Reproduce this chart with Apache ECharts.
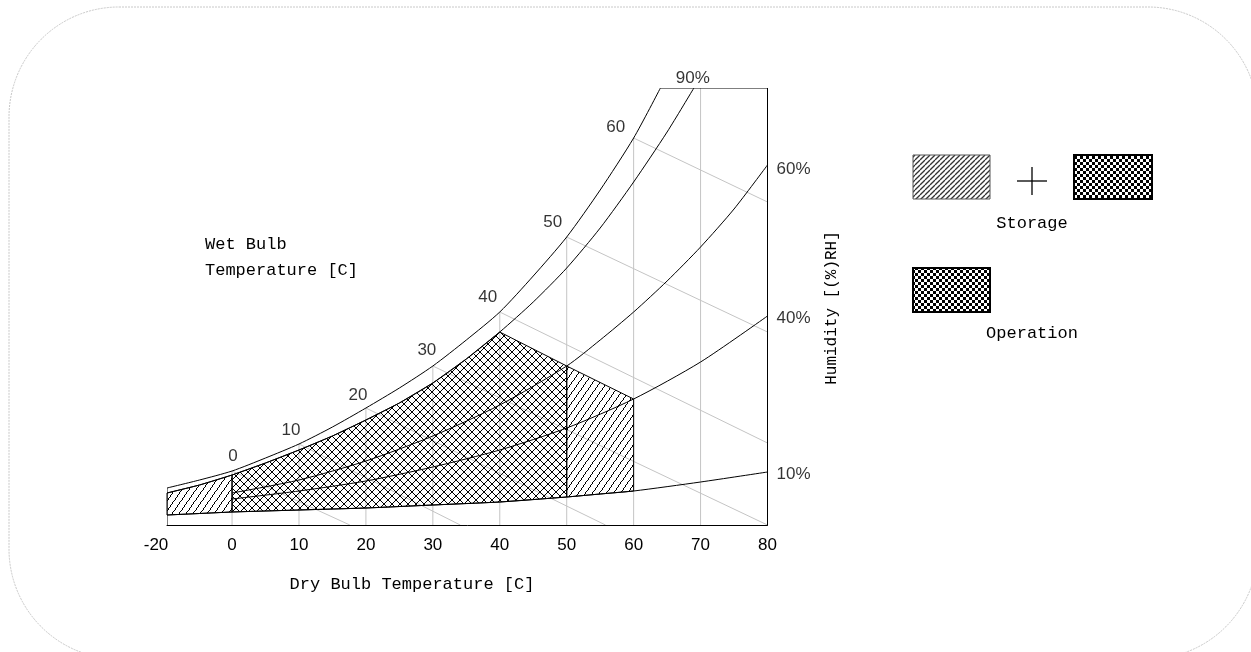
<!DOCTYPE html>
<html><head><meta charset="utf-8">
<script src="https://cdn.jsdelivr.net/npm/echarts@6/dist/echarts.min.js"></script>
<style>html,body{margin:0;padding:0;background:#fff;}#c{width:1251px;height:652px;}</style>
</head><body><div id="c"></div>
<script>
// ---- data (dry bulb temperature in °C, humidity index in chart units) ----
const xTicks = [-20, 0, 10, 20, 30, 40, 50, 60, 70, 80];
const wetBulbLabels = [0, 10, 20, 30, 40, 50, 60];
const satT = [-20, -10, 0, 5, 10, 15, 20, 25, 30, 35, 40, 45, 50, 55, 60, 64];
const satH = [37, 45, 54, 67, 81, 98, 117, 137, 159, 185, 213, 249, 288, 335, 387, 437];
const rh90T = [-20, -10, 0, 5, 10, 15, 20, 25, 30, 35, 40, 45, 50, 55, 60, 65, 69];
const rh90H = [32, 40, 50, 62, 75, 89, 105, 122, 142, 166, 193, 223, 257, 297, 343, 393, 437];
const rh60T = [0, 10, 20, 30, 40, 50, 55, 60, 65, 70, 75, 80];
const rh60H = [32, 45, 64, 89, 120, 159, 185, 213, 244, 278, 316, 360];
const rh40T = [0, 10, 20, 30, 40, 50, 60, 70, 80];
const rh40H = [26, 34, 44, 58, 75, 97, 126, 163, 209];
const rh10T = [-20, -10, 0, 10, 20, 30, 40, 50, 55, 60, 70, 80];
const rh10H = [10, 11.5, 13, 15, 17, 20, 23, 28, 31, 34, 43, 53];
const rhLabels = ['90%', '60%', '40%', '10%'];
// constant wet-bulb guide lines: start on saturation, end on chart border
const wbStartT = [0, 10, 20, 30, 40, 50, 60];
const wbEndT = [17.6, 34.1, 55.8, 80, 80, 80, 80];
const wbEndH = [0, 0, 0, 0, 82, 193, 323];
// upper wet-bulb limit of the Operation / Storage areas
const limitT = [40, 50, 60];
const limitH = [193, 159, 126];
const operationRange = [0, 50];
const storageRange = [-20, 60];
const gridT = [0, 10, 20, 30, 40, 50, 60, 70];
const chartTopH = 437;
const chartMaxT = 80;

// ---- scale: the -20..0 segment of the dry-bulb axis is compressed ----
const NEG = 0.486;
const tx = t => (t < 0 ? t * NEG : t);
const fromTx = v => (v < 0 ? Math.round(v / NEG) : Math.round(v));
const pts = (T, H) => T.map((t, i) => [tx(t), H[i]]);
const slice = (T, H, a, b) => T.map((t, i) => [t, H[i]]).filter(p => p[0] >= a && p[0] <= b).map(p => [tx(p[0]), p[1]]);
const lookup = (T, H, t) => { const i = T.indexOf(t); return i >= 0 ? H[i] : chartTopH; };

// ---- fill patterns (crisp pixel hatching) ----
function makeCanvas(w, h, draw) { const c = document.createElement('canvas'); c.width = w; c.height = h; const g = c.getContext('2d'); draw(g, w, h); return c; }
const crossHatch = makeCanvas(8, 8, (g, w, h) => {
  g.fillStyle = '#000';
  for (let i = 0; i < h; i++) { g.fillRect(i, i, 1, 1); g.fillRect(w - 1 - i, i, 1, 1); }
});
const singleHatch = makeCanvas(7, 10, (g, w, h) => {
  g.fillStyle = '#000';
  for (let r = 0; r < h; r++) { const x = Math.floor((h - 1 - r) * w / h); g.fillRect(x, r, 1, 1); }
});
const legendStripes = makeCanvas(5, 5, (g, w, h) => {
  g.strokeStyle = '#333'; g.lineWidth = 1.3;
  for (let k = -1; k <= 1; k++) { g.beginPath(); g.moveTo(k * w, h); g.lineTo(k * w + w, 0); g.stroke(); }
});
const checker = makeCanvas(6, 6, (g) => {
  g.fillStyle = '#fff'; g.fillRect(0, 0, 6, 6);
  g.fillStyle = '#000'; g.fillRect(0, 0, 3, 3); g.fillRect(3, 3, 3, 3);
});

// ---- polygons ----
const opPoly = [].concat(
  slice(rh90T, rh90H, operationRange[0], limitT[0]),
  slice(limitT, limitH, limitT[0], operationRange[1]),
  slice(rh10T, rh10H, operationRange[0], operationRange[1]).reverse()
);
const stLeftPoly = [].concat(
  slice(rh90T, rh90H, storageRange[0], operationRange[0]),
  slice(rh10T, rh10H, storageRange[0], operationRange[0]).reverse()
);
const stRightPoly = [].concat(
  slice(limitT, limitH, operationRange[1], storageRange[1]),
  slice(rh10T, rh10H, operationRange[1], storageRange[1]).reverse()
);

function polySeries(poly, fill) {
  return {
    type: 'custom', silent: true, z: 3, clip: false, data: poly,
    renderItem: (params, api) => {
      if (params.dataIndex !== 0) return null;
      return { type: 'polygon', shape: { points: poly.map(p => api.coord(p)) },
        style: { fill: { image: fill, repeat: 'repeat' }, stroke: '#000', lineWidth: 1 } };
    }
  };
}
function curve(T, H) {
  return { type: 'line', data: pts(T, H), symbol: 'none', smooth: 0.25, silent: true, z: 4,
    lineStyle: { color: '#000', width: 1 } };
}
function segSeries(data, color, z) {
  return {
    type: 'custom', silent: true, z: z, clip: true, data: data,
    renderItem: (params, api) => {
      const a = api.coord([api.value(0), api.value(1)]);
      const b = api.coord([api.value(2), api.value(3)]);
      return { type: 'line', shape: { x1: a[0], y1: a[1], x2: b[0], y2: b[1] }, style: { stroke: color, lineWidth: 1 } };
    }
  };
}

const gridLines = gridT.map(t => [tx(t), 0, tx(t), lookup(satT, satH, t)]);
const wbLines = wbStartT.map((t, i) => [tx(t), lookup(satT, satH, t), tx(wbEndT[i]), wbEndH[i]]);
const frameLines = [
  [tx(storageRange[0]), 0, tx(storageRange[0]), satH[0]],
  [tx(satT[satT.length - 1]), chartTopH, chartMaxT, chartTopH],
  [chartMaxT, 0, chartMaxT, chartTopH]
];

const wbOffsets = [[1, -15], [-8, -14], [-8, -13], [-6, -16], [-12, -15], [-14, -15], [-18, -11]];
const wbLabelData = wetBulbLabels.map((t, i) => ({
  value: [tx(t), lookup(satT, satH, t)],
  label: { offset: wbOffsets[i] }, name: String(t)
}));
const rhEnds = [
  [rh90T[rh90T.length - 1], rh90H[rh90H.length - 1]],
  [rh60T[rh60T.length - 1], rh60H[rh60H.length - 1]],
  [rh40T[rh40T.length - 1], rh40H[rh40H.length - 1]],
  [rh10T[rh10T.length - 1], rh10H[rh10H.length - 1]]
];
const rhLabelStyle = [
  { position: 'inside', offset: [-1, -10], align: 'center' },
  { position: 'inside', offset: [9, 4], align: 'left' },
  { position: 'inside', offset: [9, 2], align: 'left' },
  { position: 'inside', offset: [9, 2], align: 'left' }
];
const rhLabelData = rhLabels.map((s, i) => ({ value: [tx(rhEnds[i][0]), rhEnds[i][1]], name: s, label: rhLabelStyle[i] }));

const sans = 'Liberation Sans, Arial, sans-serif';
const mono = 'Liberation Mono, DejaVu Sans Mono, monospace';

const chart = echarts.init(document.getElementById('c'), null, { renderer: 'canvas' });
chart.setOption({
  animation: false,
  backgroundColor: '#fff',
  grid: { left: 167, top: 88, right: 483.5, bottom: 127, outerBoundsMode: 'none' },
  xAxis: {
    type: 'value', min: tx(xTicks[0]), max: chartMaxT,
    axisLine: { lineStyle: { color: '#000', width: 1 } },
    axisTick: { show: false }, splitLine: { show: false },
    axisLabel: { customValues: xTicks.map(tx),
      formatter: v => (v < 0 ? '{neg|' + fromTx(v) + '}' : String(fromTx(v))),
      rich: { neg: { color: '#000', fontFamily: sans, fontSize: 17, padding: [0, 22, 0, 0] } },
      color: '#000', fontFamily: sans, fontSize: 17, margin: 12 }
  },
  yAxis: { type: 'value', min: 0, max: chartTopH, show: false, splitLine: { show: false } },
  graphic: [
    { type: 'rect', z: -10, silent: true, shape: { x: 9, y: 7, width: 1249, height: 652, r: 110 },
      style: { fill: null, stroke: '#c8c8c8', lineWidth: 1, lineDash: [2, 1] } },
    { type: 'text', x: 205, y: 244, silent: true, style: { text: 'Wet Bulb', font: '17px ' + mono, fill: '#000', verticalAlign: 'middle' } },
    { type: 'text', x: 205, y: 270, silent: true, style: { text: 'Temperature [C]', font: '17px ' + mono, fill: '#000', verticalAlign: 'middle' } },
    { type: 'text', x: 412, y: 584, silent: true, style: { text: 'Dry Bulb Temperature [C]', font: '17px ' + mono, fill: '#000', align: 'center', verticalAlign: 'middle' } },
    { type: 'text', x: 832, y: 308, rotation: Math.PI / 2, silent: true, style: { text: 'Humidity [(%)RH]', font: '16px ' + mono, fill: '#000', align: 'center', verticalAlign: 'middle' } },
    { type: 'rect', silent: true, shape: { x: 913, y: 155, width: 77, height: 44 }, style: { fill: { image: legendStripes, repeat: 'repeat' }, stroke: '#555', lineWidth: 1 } },
    { type: 'line', silent: true, shape: { x1: 1017, y1: 181, x2: 1047, y2: 181 }, style: { stroke: '#000', lineWidth: 1.3 } },
    { type: 'line', silent: true, shape: { x1: 1032, y1: 167, x2: 1032, y2: 195 }, style: { stroke: '#000', lineWidth: 1.3 } },
    { type: 'rect', silent: true, shape: { x: 1074, y: 155, width: 78, height: 44 }, style: { fill: { image: checker, repeat: 'repeat' }, stroke: '#000', lineWidth: 2 } },
    { type: 'text', x: 1032, y: 223, silent: true, style: { text: 'Storage', font: '17px ' + mono, fill: '#000', align: 'center', verticalAlign: 'middle' } },
    { type: 'rect', silent: true, shape: { x: 913, y: 268, width: 77, height: 44 }, style: { fill: { image: checker, repeat: 'repeat' }, stroke: '#000', lineWidth: 2 } },
    { type: 'text', x: 1032, y: 333, silent: true, style: { text: 'Operation', font: '17px ' + mono, fill: '#000', align: 'center', verticalAlign: 'middle' } }
  ],
  series: [
    segSeries(gridLines, '#c4c4c4', 1),
    segSeries(wbLines, '#c4c4c4', 1),
    polySeries(stLeftPoly, singleHatch),
    polySeries(stRightPoly, singleHatch),
    polySeries(opPoly, crossHatch),
    curve(satT, satH),
    curve(rh90T, rh90H),
    curve(rh60T, rh60H),
    curve(rh40T, rh40H),
    curve(rh10T, rh10H),
    segSeries(frameLines, '#000', 5),
    { type: 'scatter', data: wbLabelData, symbolSize: 0, silent: true, z: 6,
      label: { show: true, position: 'inside', formatter: p => p.name, color: '#000', fontFamily: sans, fontSize: 17, align: 'center', verticalAlign: 'middle' } },
    { type: 'scatter', data: rhLabelData, symbolSize: 0, silent: true, z: 6,
      label: { show: true, formatter: p => p.name, color: '#000', fontFamily: sans, fontSize: 17, verticalAlign: 'middle' } }
  ]
});
</script></body></html>
